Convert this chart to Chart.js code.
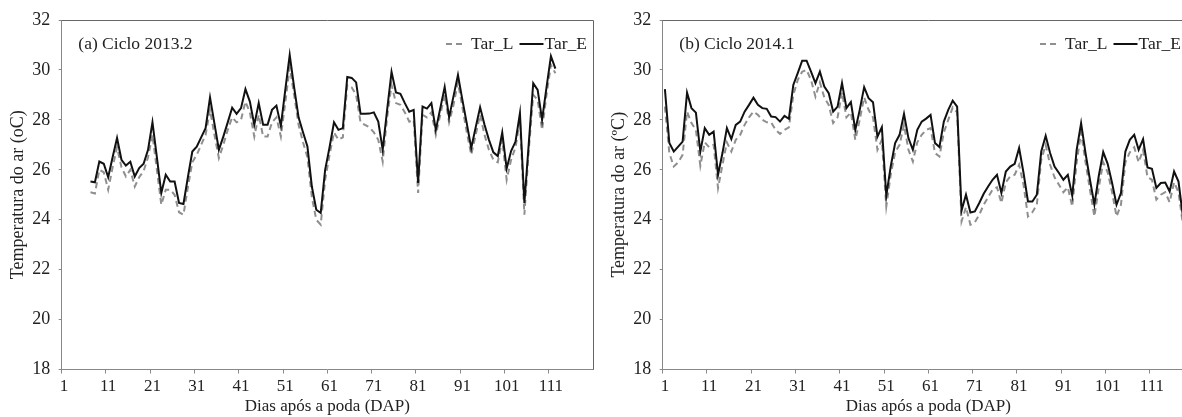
<!DOCTYPE html>
<html lang="pt">
<head>
<meta charset="utf-8">
<title>Temperatura do ar - Tar_L x Tar_E</title>
<script src="https://cdn.jsdelivr.net/npm/chart.js@4.4.0/dist/chart.umd.min.js"></script>
<style>
  html, body { margin: 0; padding: 0; background: #fff; }
  body { width: 1182px; height: 417px; overflow: hidden; position: relative; }
  .painel { position: absolute; top: 0; width: 600px; height: 417px; }
  #painelA { left: 0; }
  #painelB { left: 601px; }
</style>
</head>
<body>
<div class="painel" id="painelA"><canvas id="graficoA" width="600" height="417"></canvas></div>
<div class="painel" id="painelB"><canvas id="graficoB" width="600" height="417"></canvas></div>
<script>
// Dias após a poda (eixo de categorias)
const dias = Array.from({ length: 120 }, (_, i) => i + 1);

// Eixo Y
const yMin = 18;
const yMax = 32;
const yPasso = 2;

// (a) Ciclo 2013.2 - começa no dia 7
const inicioA = 7;
const tarE_A = [
  25.53, 25.5, 26.33, 26.24, 25.7, 26.5, 27.27, 26.4, 26.17, 26.32,
  25.73, 26.07, 26.24, 26.8, 27.9, 26.5, 25.07, 25.8, 25.53, 25.53,
  24.67, 24.63, 25.7, 26.73, 26.93, 27.3, 27.67, 28.9, 27.85, 26.8,
  27.33, 27.9, 28.49, 28.24, 28.47, 29.23, 28.73, 27.8, 28.67, 27.8,
  27.8, 28.4, 28.57, 27.76, 29.2, 30.6, 29.3, 28.1, 27.5, 26.93,
  25.33, 24.4, 24.27, 26.0, 26.9, 27.9, 27.6, 27.67, 29.72, 29.68,
  29.5, 28.24, 28.24, 28.25, 28.3, 27.93, 26.8, 28.4, 29.92, 29.1,
  29.04, 28.67, 28.33, 28.4, 25.47, 28.53, 28.45, 28.67, 27.6, 28.46,
  29.32, 28.1, 28.95, 29.8, 28.8, 27.85, 26.87, 27.7, 28.5, 27.8,
  27.2, 26.7, 26.55, 27.49, 26.05, 26.75, 27.13, 28.27, 24.67, 27.07,
  29.47, 29.2, 28.0, 29.3, 30.55, 30.05
];
const tarL_A = [
  25.1, 25.05, 26.0, 25.9, 25.2, 26.1, 26.9, 26.1, 25.73, 26.0,
  25.33, 25.7, 25.95, 26.5, 27.4, 26.0, 24.6, 25.2, 25.2, 25.0,
  24.3, 24.2, 25.3, 26.3, 26.6, 27.0, 27.4, 28.4, 27.4, 26.47,
  27.0, 27.6, 28.1, 27.9, 28.0, 28.73, 28.3, 27.33, 28.2, 27.33,
  27.33, 27.9, 28.1, 27.33, 28.7, 30.1, 29.0, 27.8, 27.1, 26.5,
  24.9, 24.0, 23.8, 25.6, 26.6, 27.5, 27.2, 27.3, 29.4, 29.3,
  29.0, 27.9, 27.8, 27.7, 27.5, 27.2, 26.33, 28.1, 29.4, 28.67,
  28.6, 28.3, 27.93, 28.0, 25.07, 28.2, 28.1, 28.3, 27.4, 28.2,
  29.0, 27.9, 28.6, 29.5, 28.5, 27.5, 26.6, 27.4, 28.2, 27.4,
  26.8, 26.4, 26.3, 27.2, 25.6, 26.4, 26.9, 28.0, 24.2, 26.8,
  29.0, 28.8, 27.6, 29.0, 30.2, 29.87
];

// (b) Ciclo 2014.1 - começa no dia 1
const inicioB = 1;
const tarE_B = [
  29.23, 27.07, 26.73, 26.93, 27.13, 29.09, 28.47, 28.29, 26.73, 27.67,
  27.4, 27.53, 25.8, 26.67, 27.67, 27.23, 27.8, 27.93, 28.33, 28.6,
  28.89, 28.6, 28.47, 28.44, 28.13, 28.11, 27.93, 28.16, 28.04, 29.4,
  29.87, 30.37, 30.37, 29.93, 29.47, 29.93, 29.33, 29.07, 28.33, 28.53,
  29.47, 28.47, 28.71, 27.6, 28.4, 29.31, 28.87, 28.71, 27.33, 27.71,
  24.96, 26.13, 27.07, 27.4, 28.24, 27.27, 26.8, 27.6, 27.93, 28.05,
  28.2, 27.07, 26.91, 27.93, 28.4, 28.77, 28.53, 24.37, 25.0, 24.29,
  24.33, 24.67, 25.04, 25.33, 25.6, 25.8, 25.07, 25.93, 26.13, 26.24,
  26.87, 25.87, 24.73, 24.73, 25.0, 26.73, 27.36, 26.67, 26.13, 25.87,
  25.6, 25.8, 24.96, 26.8, 27.87, 26.67, 25.6, 24.6, 25.76, 26.71,
  26.24, 25.47, 24.6, 25.07, 26.73, 27.2, 27.4, 26.8, 27.23, 26.09,
  26.04, 25.27, 25.47, 25.49, 25.13, 25.93, 25.53, 24.13
];
const tarL_B = [
  28.53, 26.67, 26.13, 26.3, 26.6, 28.33, 27.87, 27.6, 26.16, 27.1,
  26.9, 27.0, 25.27, 26.2, 27.1, 26.73, 27.2, 27.4, 27.8, 28.1,
  28.33, 28.2, 28.0, 27.9, 27.9, 27.6, 27.44, 27.6, 27.7, 29.0,
  29.6, 29.93, 30.0, 29.6, 28.93, 29.5, 28.9, 28.6, 27.87, 28.1,
  29.1, 28.1, 28.3, 27.2, 28.0, 28.9, 28.4, 28.1, 26.8, 27.2,
  24.53, 25.8, 26.7, 27.0, 27.8, 26.8, 26.33, 27.1, 27.4, 27.6,
  27.67, 26.67, 26.53, 27.5, 28.0, 28.5, 28.3, 23.93, 24.5, 23.8,
  23.9, 24.2, 24.6, 24.9, 25.2, 25.3, 24.67, 25.5, 25.73, 25.8,
  26.2, 25.4, 24.13, 24.3, 24.6, 26.4, 27.0, 26.2, 25.7, 25.4,
  25.1, 25.3, 24.53, 26.3, 27.5, 26.3, 25.2, 24.13, 25.3, 26.3,
  25.9, 25.1, 24.13, 24.6, 26.3, 26.7, 26.9, 26.3, 26.8, 25.7,
  25.6, 24.8, 25.0, 25.1, 24.7, 25.5, 25.1, 23.8
];

Chart.defaults.font.family = '"Liberation Serif", "Times New Roman", serif';
Chart.defaults.color = '#222';

function pontos(inicio, valores) {
  return valores.map((v, i) => ({ x: inicio + i, y: v }));
}

// Moldura de cima/direita, rótulo do ciclo e legenda dentro da área
const moldura = {
  id: 'moldura',
  afterDraw(chart, args, opts) {
    const { ctx, chartArea: a } = chart;
    ctx.save();
    ctx.strokeStyle = '#666';
    ctx.lineWidth = 1;
    ctx.beginPath();
    ctx.moveTo(a.left, a.top + 0.5);
    ctx.lineTo(a.right + 0.5, a.top + 0.5);
    ctx.lineTo(a.right + 0.5, a.bottom);
    ctx.stroke();

    const y = a.top + 24;
    ctx.font = '17.5px "Liberation Serif", serif';
    ctx.fillStyle = '#222';
    ctx.textBaseline = 'middle';
    ctx.textAlign = 'left';
    ctx.fillText(opts.rotulo, a.left + 16.6, y);

    // legenda: da direita para a esquerda
    let x = a.right - opts.margemLegenda;
    chart.data.datasets.forEach(ds => {
      ctx.textAlign = 'right';
      ctx.fillStyle = '#222';
      ctx.fillText(ds.label, x, y);
      x -= ctx.measureText(ds.label).width;
      ctx.strokeStyle = ds.borderColor;
      ctx.lineWidth = ds.borderWidth;
      ctx.setLineDash(ds.borderDash || []);
      ctx.beginPath();
      ctx.moveTo(x - 25, y);
      ctx.lineTo(ds.borderDash ? x - 8 : x - 1, y);
      ctx.stroke();
      ctx.setLineDash([]);
      x -= 31;
    });
    ctx.restore();
  }
};

function criarGrafico(id, rotulo, tituloY, inicio, tarE, tarL, margemLegenda) {
  const ctx = document.getElementById(id).getContext('2d');
  return new Chart(ctx, {
    type: 'line',
    data: {
      labels: dias,
      datasets: [
        {
          label: 'Tar_E',
          data: pontos(inicio, tarE),
          borderColor: '#111',
          borderWidth: 2,
          pointRadius: 0,
          tension: 0,
          fill: false
        },
        {
          label: 'Tar_L',
          data: pontos(inicio, tarL),
          borderColor: '#8f8f8f',
          borderWidth: 2,
          borderDash: [6, 4],
          pointRadius: 0,
          tension: 0,
          fill: false
        }
      ]
    },
    options: {
      responsive: false,
      animation: false,
      devicePixelRatio: 1,
      layout: { padding: { top: 20, right: 7, left: 0, bottom: 0 } },
      plugins: {
        legend: { display: false },
        tooltip: { enabled: false },
        moldura: { rotulo: rotulo, margemLegenda: margemLegenda }
      },
      scales: {
        x: {
          type: 'category',
          offset: true,
          grid: {
            offset: true,
            drawOnChartArea: false,
            tickLength: 4,
            color: c => (c.index % 10 === 0 ? '#888' : 'rgba(0,0,0,0)')
          },
          border: { color: '#888' },
          ticks: {
            autoSkip: false,
            maxRotation: 0,
            minRotation: 0,
            padding: 3,
            font: { size: 17 },
            callback(v, i) { return i % 10 === 0 ? this.getLabelForValue(v) : ''; }
          },
          title: {
            display: true,
            text: 'Dias após a poda (DAP)',
            font: { size: 17 },
            padding: { top: 0, bottom: 0 }
          },
          afterFit(s) { s.height = 47.5; }
        },
        y: {
          min: yMin,
          max: yMax,
          grid: { drawOnChartArea: false, tickLength: 3, color: '#888' },
          border: { color: '#888' },
          ticks: { stepSize: yPasso, padding: 8.5, font: { size: 18 } },
          title: {
            display: true,
            text: tituloY,
            font: { size: 18 },
            padding: { top: 7, bottom: 0 }
          },
          afterFit(s) { s.width = 61.7; }
        }
      }
    },
    plugins: [moldura]
  });
}

criarGrafico('graficoA', '(a) Ciclo 2013.2', 'Temperatura do ar (oC)', inicioA, tarE_A, tarL_A, 6);
criarGrafico('graficoB', '(b) Ciclo 2014.1', 'Temperatura do ar (ºC)', inicioB, tarE_B, tarL_B, 13);
</script>
</body>
</html>
